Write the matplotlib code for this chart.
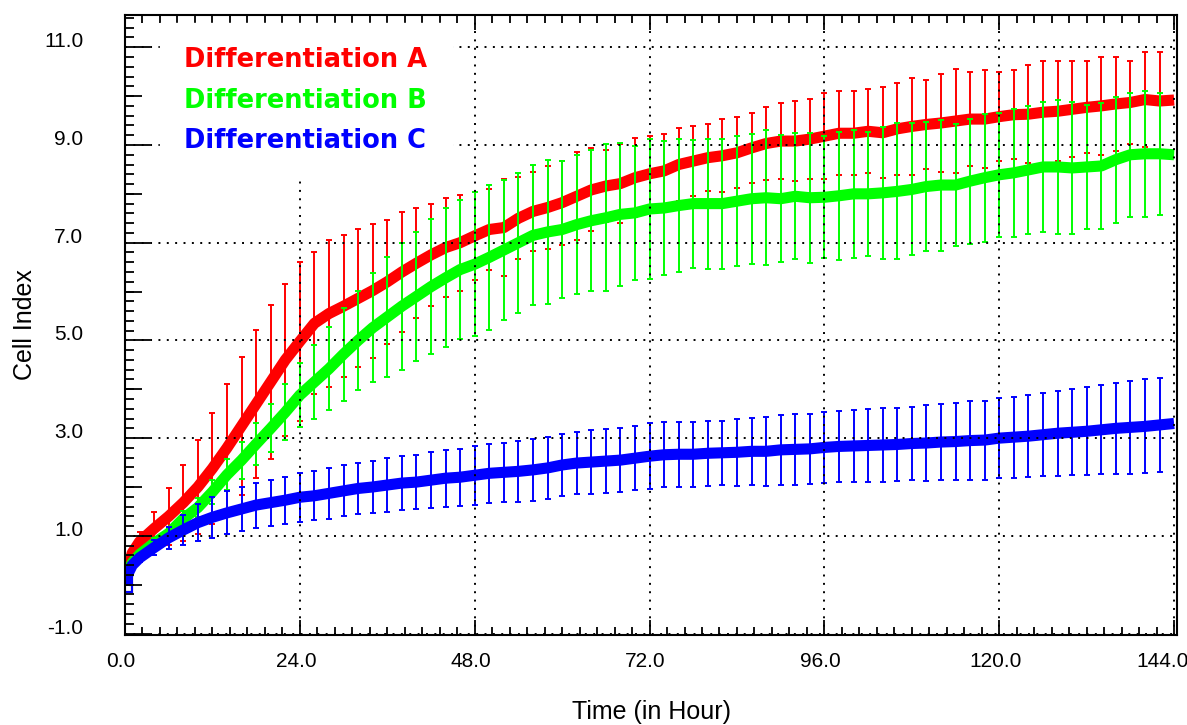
import numpy as np
import matplotlib
matplotlib.use("Agg")
import matplotlib.pyplot as plt
from matplotlib.lines import Line2D
from matplotlib.ticker import MultipleLocator, FormatStrFormatter
from matplotlib.transforms import ScaledTranslation

plt.rcParams['font.family'] = ['Liberation Sans', 'DejaVu Sans']

# readings: three early points, then one every 2 h up to 144 h
hours = np.concatenate([[0.0, 0.5, 1.0], np.arange(2.0, 145.0, 2.0)])

series_names = ["Differentiation A", "Differentiation B", "Differentiation C"]
series_colors = ["#ff0000", "#00ff00", "#0000ff"]

x_ticks = [0, 24, 48, 72, 96, 120, 144]
y_ticks = [-1, 1, 3, 5, 7, 9, 11]

diff_a_mean = np.array([
    0.0, 0.4, 0.65,
    0.88, 1.15, 1.4, 1.68, 2.0, 2.38, 2.8, 3.25, 3.7, 4.15,
    4.6, 4.98, 5.35, 5.55, 5.7, 5.86, 6.02, 6.2, 6.4, 6.58,
    6.75, 6.9, 7.0, 7.14, 7.27, 7.31, 7.5, 7.64, 7.72, 7.82,
    7.95, 8.08, 8.16, 8.21, 8.33, 8.41, 8.47, 8.6, 8.67, 8.74,
    8.78, 8.84, 8.94, 9.03, 9.08, 9.08, 9.12, 9.18, 9.24, 9.24,
    9.28, 9.25, 9.33, 9.38, 9.42, 9.45, 9.49, 9.53, 9.53, 9.58,
    9.62, 9.63, 9.67, 9.69, 9.73, 9.77, 9.8, 9.84, 9.87, 9.93,
    9.9, 9.92])
diff_a_sd = np.array([
    np.nan, np.nan, np.nan,
    0.2, 0.33, 0.58, 0.78, 0.96, 1.14, 1.3, 1.42, 1.52, 1.58,
    1.55, 1.63, 1.45, 1.5, 1.45, 1.41, 1.37, 1.27, 1.23, 1.13,
    1.05, 1.02, 0.98, 0.9, 0.83, 1.0, 0.84, 0.8, 0.84, 0.86,
    0.9, 0.85, 0.74, 0.81, 0.81, 0.77, 0.75, 0.75, 0.72, 0.69,
    0.75, 0.73, 0.71, 0.75, 0.78, 0.82, 0.82, 0.88, 0.86, 0.86,
    0.86, 0.93, 0.94, 1.0, 0.91, 1.0, 1.06, 0.96, 1.0, 0.91,
    0.91, 1.0, 1.04, 1.02, 0.98, 0.94, 1.0, 0.96, 0.84, 0.97,
    1.0, np.nan])

diff_b_mean = np.array([
    0.0, 0.3, 0.45,
    0.62, 0.85, 1.05, 1.35, 1.58, 1.9, 2.25, 2.55, 2.88, 3.2,
    3.53, 3.88, 4.15, 4.42, 4.72, 5.0, 5.26, 5.48, 5.7, 5.9,
    6.1, 6.28, 6.45, 6.56, 6.7, 6.85, 7.0, 7.15, 7.22, 7.27,
    7.37, 7.45, 7.51, 7.58, 7.61, 7.69, 7.71, 7.76, 7.8, 7.8,
    7.8, 7.85, 7.9, 7.92, 7.9, 7.95, 7.92, 7.93, 7.96, 8.0,
    8.0, 8.02, 8.05, 8.09, 8.15, 8.18, 8.18, 8.26, 8.33, 8.39,
    8.43, 8.49, 8.55, 8.55, 8.53, 8.55, 8.57, 8.7, 8.8, 8.82,
    8.82, 8.8])
diff_b_sd = np.array([
    np.nan, np.nan, np.nan,
    0.08, 0.1, 0.12, 0.15, 0.2, 0.25, 0.32, 0.38, 0.43, 0.49,
    0.57, 0.66, 0.75, 0.85, 0.95, 1.02, 1.12, 1.22, 1.3, 1.32,
    1.38, 1.42, 1.43, 1.48, 1.48, 1.43, 1.43, 1.43, 1.47, 1.4,
    1.43, 1.44, 1.5, 1.46, 1.37, 1.43, 1.38, 1.37, 1.31, 1.33,
    1.33, 1.33, 1.33, 1.38, 1.3, 1.29, 1.33, 1.25, 1.31, 1.31,
    1.27, 1.35, 1.39, 1.35, 1.31, 1.34, 1.24, 1.28, 1.31, 1.27,
    1.31, 1.31, 1.33, 1.37, 1.35, 1.26, 1.28, 1.29, 1.27, 1.29,
    1.25, np.nan])

diff_c_mean = np.array([
    0.0, 0.25, 0.4,
    0.55, 0.76, 0.96, 1.12, 1.27, 1.38, 1.47, 1.55, 1.63, 1.68,
    1.73, 1.79, 1.82, 1.87, 1.92, 1.97, 2.0, 2.04, 2.08, 2.1,
    2.14, 2.18, 2.2, 2.24, 2.28, 2.3, 2.32, 2.35, 2.39, 2.45,
    2.49, 2.51, 2.53, 2.55, 2.59, 2.63, 2.66, 2.67, 2.67, 2.69,
    2.7, 2.71, 2.73, 2.73, 2.76, 2.77, 2.78, 2.81, 2.83, 2.84,
    2.85, 2.86, 2.87, 2.89, 2.9, 2.92, 2.93, 2.95, 2.96, 3.0,
    3.02, 3.04, 3.07, 3.1, 3.12, 3.14, 3.17, 3.2, 3.22, 3.24,
    3.27, 3.3])
diff_c_sd = np.array([
    np.nan, np.nan, np.nan,
    0.08, 0.15, 0.22, 0.3, 0.38, 0.42, 0.44, 0.45, 0.46, 0.47,
    0.48, 0.5, 0.5, 0.52, 0.52, 0.53, 0.54, 0.55, 0.55, 0.56,
    0.57, 0.58, 0.58, 0.6, 0.6, 0.61, 0.62, 0.63, 0.63, 0.64,
    0.64, 0.65, 0.65, 0.66, 0.66, 0.67, 0.66, 0.67, 0.67, 0.66,
    0.66, 0.68, 0.69, 0.7, 0.71, 0.72, 0.72, 0.73, 0.73, 0.74,
    0.74, 0.75, 0.75, 0.75, 0.77, 0.78, 0.79, 0.8, 0.81, 0.82,
    0.83, 0.84, 0.85, 0.87, 0.88, 0.9, 0.91, 0.93, 0.95, 0.96,
    0.97, np.nan])


def draw_series(ax, mean, sd, color):
    """thick mean curve with an open square at t0, plus the SD bars"""
    ax.plot(hours, mean, color=color, lw=8, solid_capstyle='butt',
            marker='s', markevery=[0], ms=10, mfc='none', mec=color, mew=1.5)
    has_bar = ~np.isnan(sd)
    ax.errorbar(hours[has_bar], mean[has_bar], yerr=sd[has_bar], fmt='none',
                ecolor=color, elinewidth=1.4, capsize=2, capthick=1.4)


fig = plt.figure(figsize=(11.87, 7.25), dpi=100)
ax = fig.add_axes([0.1053, 0.1241, 0.8863, 0.8552])

for mean, sd, color in zip([diff_a_mean, diff_b_mean, diff_c_mean],
                           [diff_a_sd, diff_b_sd, diff_c_sd], series_colors):
    draw_series(ax, mean, sd, color)

ax.set_xlim(0.0, 144.4)
ax.set_ylim(-1.03, 11.66)

ax.set_xticks(x_ticks)
ax.xaxis.set_minor_locator(MultipleLocator(2.4))
ax.xaxis.set_major_formatter(FormatStrFormatter('%.1f'))
ax.set_yticks(y_ticks)
ax.yaxis.set_minor_locator(MultipleLocator(0.2))
ax.yaxis.set_major_formatter(FormatStrFormatter('%.1f'))

ax.tick_params(which='both', direction='in', top=True, right=False, color='black')
ax.tick_params(axis='x', which='major', length=11, width=1.3, pad=12, labelsize=15)
ax.tick_params(axis='x', which='minor', length=5.5, width=1.3)
ax.tick_params(axis='y', which='major', length=18, width=1.3, pad=30, labelsize=15)
ax.tick_params(axis='y', which='minor', length=6.5, width=1.3)
plt.setp(ax.get_yticklabels(), va='baseline')

# nudge the x labels a little left so the last one stays inside the figure
xlabels = ax.get_xticklabels()
for lab in xlabels:
    lab.set_transform(lab.get_transform() + ScaledTranslation(-0.04, 0, fig.dpi_scale_trans))
xlabels[-1].set_transform(xlabels[-1].get_transform() + ScaledTranslation(-0.08, 0, fig.dpi_scale_trans))

# mid-length ticks on the even values of the y axis
mid = ax.secondary_yaxis('left')
mid.set_yticks(np.arange(0, 11, 2))
mid.set_yticklabels([])
mid.tick_params(direction='in', length=12, width=1.3)
mid.spines['left'].set_visible(False)

for side in ['left', 'right', 'top', 'bottom']:
    ax.spines[side].set_linewidth(1.5)

ax.set_axisbelow(False)
ax.grid(which='major', color='black', linestyle=(0, (1, 3.3)), linewidth=1.4)

ax.set_xlabel('Time (in Hour)', fontsize=18)
ax.set_ylabel('Cell Index', fontsize=18)
ax.xaxis.set_label_coords(0.5, -0.105)
ax.yaxis.set_label_coords(-0.084, 0.5)

handles = [Line2D([], [], linestyle='none') for _ in series_names]
leg = ax.legend(handles, series_names, loc='upper left', bbox_to_anchor=(0.033, 0.987),
                borderaxespad=0, handlelength=0, handletextpad=0, borderpad=0.95,
                labelspacing=0.55, frameon=True, fancybox=False, framealpha=1,
                edgecolor='white', facecolor='white',
                prop={'family': 'DejaVu Sans', 'weight': 'bold', 'size': 18.5})
for txt, color in zip(leg.get_texts(), series_colors):
    txt.set_color(color)

fig.savefig('out.png', dpi=100)
